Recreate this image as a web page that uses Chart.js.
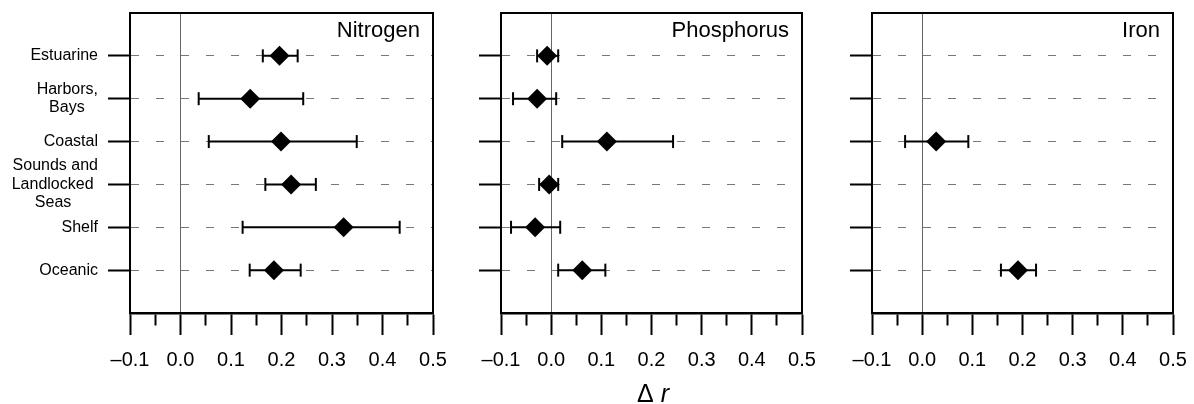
<!DOCTYPE html>
<html>
<head>
<meta charset="utf-8">
<script src="https://cdn.jsdelivr.net/npm/chart.js"></script>
<style>
	body { margin: 0; background: #fff; }
	.wrap { position: relative; width: 1194px; height: 404px; overflow: hidden; }
	.panel { position: absolute; top: 0; }
	.xlabel {
		position: absolute; left: 600px; top: 380px; width: 106px; text-align: center;
		font: 25px "Liberation Sans", Arial, sans-serif; line-height: 26px; color: #000;
	}
	.xlabel i { margin-left: 7px; }
</style>
</head>
<body>
<div class="wrap">
	<div class="panel" style="left:0"><canvas id="nitrogen" width="450" height="404"></canvas></div>
	<div class="panel" style="left:450px"><canvas id="phosphorus" width="370" height="404"></canvas></div>
	<div class="panel" style="left:820px"><canvas id="iron" width="374" height="404"></canvas></div>
	<div class="xlabel">Δ<i>r</i></div>
</div>
<script>
	// water body types, top to bottom
	const rows = [
		["Estuarine"],
		["Harbors,", "Bays   "],
		["Coastal"],
		["Sounds and", "Landlocked ", "Seas      "],
		["Shelf"],
		["Oceanic"],
	];

	// Δr estimates with lower / upper ends of the error bars
	const nitrogenMean = [0.196, 0.138, 0.199, 0.219, 0.323, 0.185];
	const nitrogenLow = [0.163, 0.036, 0.056, 0.168, 0.123, 0.137];
	const nitrogenHigh = [0.232, 0.243, 0.349, 0.268, 0.434, 0.238];

	const phosphorusMean = [-0.008, -0.028, 0.111, -0.004, -0.032, 0.062];
	const phosphorusLow = [-0.028, -0.076, 0.022, -0.024, -0.080, 0.014];
	const phosphorusHigh = [0.014, 0.010, 0.243, 0.014, 0.018, 0.108];

	const ironMean = [null, null, 0.028, null, null, 0.191];
	const ironLow = [null, null, -0.034, null, null, 0.157];
	const ironHigh = [null, null, 0.092, null, null, 0.227];

	const xTicks = [-0.1, 0.0, 0.1, 0.2, 0.3, 0.4, 0.5];

	const FONT = '"Liberation Sans", Arial, sans-serif';

	// frame round the plot area + panel name in the upper right corner
	const framePlugin = {
		id: "frame",
		afterDraw(chart, args, opts) {
			const a = chart.chartArea;
			const ctx = chart.ctx;
			ctx.save();
			ctx.strokeStyle = "#000";
			ctx.lineWidth = 2;
			ctx.strokeRect(a.left, a.top, a.right - a.left, a.bottom - a.top);
			ctx.fillStyle = "#000";
			ctx.font = "22px " + FONT;
			ctx.textAlign = "right";
			ctx.textBaseline = "alphabetic";
			ctx.fillText(opts.text, a.right - 13, a.top + 24);
			ctx.restore();
		},
	};

	function isMajor(v) {
		return Math.round(v * 20) % 2 === 0;
	}

	function makePanel(id, name, mean, low, high, opt) {
		const diamonds = [];
		const caps = [];
		const datasets = [];
		for (let i = 0; i < rows.length; i++) {
			if (mean[i] === null) continue;
			diamonds.push({ x: mean[i], y: i + 1 });
			caps.push({ x: low[i], y: i + 1 }, { x: high[i], y: i + 1 });
		}
		datasets.push({
			data: diamonds,
			pointStyle: "rectRot",
			pointRadius: 10,
			backgroundColor: "#000",
			borderColor: "#000",
			borderWidth: 0,
		});
		datasets.push({
			data: caps,
			pointStyle: "line",
			rotation: 90,
			pointRadius: 6.5,
			borderColor: "#000",
			borderWidth: 2,
		});
		for (let i = 0; i < rows.length; i++) {
			if (mean[i] === null) continue;
			datasets.push({
				data: [
					{ x: low[i], y: i + 1 },
					{ x: high[i], y: i + 1 },
				],
				showLine: true,
				borderColor: "#000",
				borderWidth: 2,
				pointRadius: 0,
			});
		}

		return new Chart(document.getElementById(id), {
			type: "scatter",
			data: { datasets: datasets },
			plugins: [framePlugin],
			options: {
				responsive: false,
				animation: false,
				events: [],
				layout: {
					padding: { left: 0, right: opt.right, top: 13, bottom: 31 },
				},
				plugins: {
					legend: { display: false },
					tooltip: { enabled: false },
					frame: { text: name },
				},
				scales: {
					x: {
						type: "linear",
						min: -0.1,
						max: 0.5,
						afterFit: (s) => {
							s.height = 60;
							s.paddingLeft = 0;
							s.paddingRight = 0;
						},
						afterBuildTicks: (s) => {
							const t = [];
							for (let k = -2; k <= 10; k++) t.push({ value: k * 0.05 });
							s.ticks = t;
						},
						ticks: {
							autoSkip: false,
							maxRotation: 0,
							padding: 13,
							color: "#000",
							font: { family: FONT, size: 20 },
							callback: (v) => {
								if (!isMajor(v)) return "";
								const r = Math.round(v * 10) / 10;
								if (!xTicks.includes(r)) return "";
								return (r < 0 ? "\u2013" : "") + Math.abs(r).toFixed(1);
							},
						},
						grid: {
							color: (c) => (Math.abs(c.tick.value) < 1e-9 ? "#666" : "rgba(0,0,0,0)"),
							lineWidth: 1,
							tickColor: "#000",
							tickWidth: 2,
							tickLength: 22,
							tickBorderDash: (c) => (isMajor(c.tick.value) ? [] : [11, 40]),
						},
						border: { display: true, color: "#000", width: 2.5 },
					},
					y: {
						type: "linear",
						min: 0,
						max: 7,
						reverse: true,
						afterFit: (s) => {
							s.width = opt.left;
							s.paddingTop = 0;
							s.paddingBottom = 0;
						},
						afterBuildTicks: (s) => {
							s.ticks = rows.map((r, i) => ({ value: i + 1 }));
						},
						ticks: {
							padding: 10,
							color: "#000",
							font: { family: FONT, size: 16, lineHeight: 1.15 },
							callback: (v) => (opt.labels ? rows[v - 1] : ""),
						},
						grid: {
							color: "#777",
							lineWidth: 1,
							tickColor: "#000",
							tickWidth: 2,
							tickLength: 22,
							tickBorderDash: [],
						},
						border: { display: true, color: "#000", width: 2, dash: [8, 17] },
					},
				},
			},
		});
	}

	makePanel("nitrogen", "Nitrogen", nitrogenMean, nitrogenLow, nitrogenHigh, { left: 130, right: 17, labels: true });
	makePanel("phosphorus", "Phosphorus", phosphorusMean, phosphorusLow, phosphorusHigh, { left: 51, right: 18, labels: false });
	makePanel("iron", "Iron", ironMean, ironLow, ironHigh, { left: 52, right: 21, labels: false });
</script>
</body>
</html>
